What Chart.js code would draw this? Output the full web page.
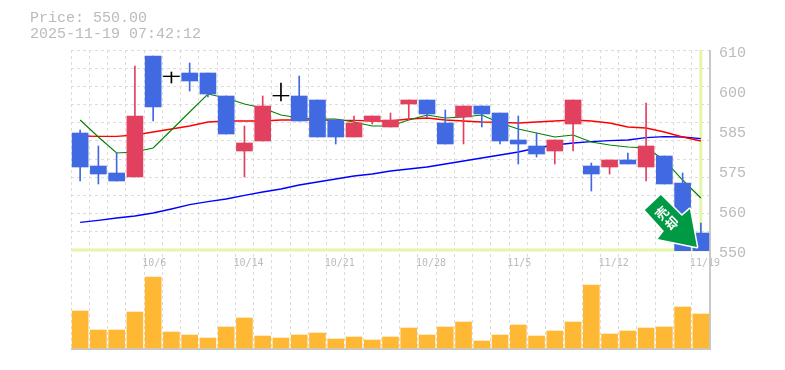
<!DOCTYPE html>
<html>
<head>
<meta charset="utf-8">
<title>Price chart</title>
<script src="https://cdn.jsdelivr.net/npm/chart.js@4"></script>
<style>
  body { margin: 0; background: #fff; }
  #header {
    position: absolute; left: 30px; top: 11px;
    font: 15px/16px "Liberation Mono", monospace; color: #bbb; white-space: pre;
  }
</style>
</head>
<body>
<div id="header">Price: 550.00
2025-11-19 07:42:12</div>
<canvas id="myChart" width="785" height="370"></canvas>
<script>
const dates = ["9/30","10/1","10/2","10/3","10/6","10/7","10/8","10/9","10/10","10/14","10/15","10/16","10/17","10/20","10/21","10/22","10/23","10/24","10/27","10/28","10/29","10/30","10/31","11/4","11/5","11/6","11/7","11/10","11/11","11/12","11/13","11/14","11/17","11/18","11/19"];
const shownDates = ["10/6","10/14","10/21","10/28","11/5","11/12","11/19"];

const opens = [585.1,575.2,573.1,571.9,608.2,602.0,603.1,603.1,596.2,579.7,582.7,596.2,596.2,595,589,583.9,588.7,586.9,593.8,595,588.1,589.9,593.2,591.1,583,581.2,579.7,587.8,575.2,574.9,577,574.9,578.2,570.1,555.1];
const closes = [574.9,572.8,570.7,590.2,592.9,602.2,600.7,596.8,584.8,582.1,593.2,596.4,588.7,583.9,583.9,588.1,590.2,589,595,590.8,581.8,593.2,590.8,582.7,581.8,578.8,583,595,572.8,577,575.8,581.2,569.8,549.8,549.8];
const highs = [586,581.2,579.1,605.2,608.2,603.4,606.1,603.1,596.2,587.2,596.2,600.1,602.2,595,589,590.2,590.2,591.1,595,595,592,593.2,593.2,591.1,590.2,585.1,583,595,576.1,577,579.1,594.1,578.2,573.1,558.1];
const lows = [570.7,569.8,570.7,571.9,588.7,600.1,597.7,595.9,584.8,571.9,582.7,594.7,588.7,583.9,581.8,583.9,587.8,586.9,589,589.9,581.8,581.8,586.9,581.8,575.8,577.9,575.8,579.7,567.7,572.8,575.8,570.7,569.8,549.8,549.8];

const ma5 = [589,583.9,579.1,579.4,580.6,586,591.4,596.8,595.6,593.8,592.6,590.5,589.6,589.3,589.3,588.4,587.2,587.2,589,590.5,589.6,589.9,590.5,588.1,586.3,585.1,583.9,584.5,582.4,581.5,580.9,580.6,577,571,565.6];
const ma25 = [584.2,584.1,584.1,584.5,585.4,586.3,587.2,588.4,588.7,588.7,588.7,589,589,589,588.9,588.9,588.7,588.7,589.3,589.6,589,588.7,588.4,588.3,588.1,588.4,588.7,589,588.7,588.1,586.9,586.6,585.4,583.9,582.7];
const ma75 = [558.3,558.9,559.6,560.2,561.1,562.3,563.6,564.5,565.3,566.4,567.4,568.3,569.5,570.4,571.3,572.2,572.8,573.7,574.3,574.9,575.8,576.7,577.6,578.5,579.4,580.6,581.5,582.1,582.5,582.8,583,583.7,584,583.9,583.4];

const volumes = [37,18,18,36,71,16,13,10,21,30,12,10,13,15,9,11,8,11,20,13,21,26,7,13,23,12,17,26,63,14,17,20,21,41,34];

// labels sit at even steps of 12 but are printed rounded
const priceTicks = [610,598,586,574,562,550];
const priceLabels = ["610","600","585","575","560","550"];
const lastPrice = 550;

const BLUE = "#4169e1";
const RED = "#e1405f";
const GRID = "#dcdcdc";
const FRAME = "#c8c8c8";
const CURSOR = "#e4f6a8";
const TEXT = "#bbb";

const candleColor = (i) => {
  if (Math.abs(opens[i] - closes[i]) < 0.5) return "#000";
  return closes[i] > opens[i] ? RED : BLUE;
};
const colors = dates.map((d, i) => candleColor(i));

//cursor lines behind the candles, frame on the right and bottom
const framePlugin = {
  id: "frame",
  beforeDatasetsDraw(chart) {
    const { ctx, chartArea, scales } = chart;
    const cx = scales.x.getPixelForValue(dates.length - 1);
    const cy = scales.y.getPixelForValue(lastPrice);
    ctx.save();
    ctx.strokeStyle = CURSOR;
    ctx.lineWidth = 3;
    ctx.beginPath();
    ctx.moveTo(chartArea.left, cy);
    ctx.lineTo(chartArea.right, cy);
    ctx.moveTo(cx, chartArea.top);
    ctx.lineTo(cx, cy);
    ctx.stroke();
    ctx.strokeStyle = FRAME;
    ctx.lineWidth = 2;
    ctx.beginPath();
    ctx.moveTo(chartArea.right, chartArea.top);
    ctx.lineTo(chartArea.right, chartArea.bottom);
    ctx.lineTo(chartArea.left, chartArea.bottom);
    ctx.stroke();
    ctx.restore();
  },
};

//green signal arrow pointing at the last candle
const arrowPlugin = {
  id: "arrow",
  afterDatasetsDraw(chart) {
    const { ctx, scales } = chart;
    const tipX = scales.x.getPixelForValue(dates.length - 1) - 4;
    const tipY = scales.y.getPixelForValue(lastPrice) - 3;
    const shape = [[0,0],[-7,-38],[-15,-31],[-36,-52],[-52,-37],[-33,-16],[-39,-8]];
    ctx.save();
    ctx.translate(tipX, tipY);
    ctx.beginPath();
    shape.forEach((p, i) => (i ? ctx.lineTo(p[0], p[1]) : ctx.moveTo(p[0], p[1])));
    ctx.closePath();
    ctx.lineJoin = "round";
    ctx.lineWidth = 3;
    ctx.strokeStyle = "#fff";
    ctx.stroke();
    ctx.fillStyle = "#009944";
    ctx.fill();
    ctx.fillStyle = "#fff";
    ctx.font = 'bold 13px "Noto Sans CJK JP"';
    ctx.textAlign = "center";
    ctx.textBaseline = "middle";
    ctx.translate(-30, -29);
    ctx.rotate(-Math.PI / 4);
    ctx.fillText("売", 0, -7);
    ctx.fillText("却", 0, 7);
    ctx.restore();
  },
};

new Chart(document.getElementById("myChart"), {
  type: "bar",
  data: {
    labels: dates,
    datasets: [
      { type: "bar", yAxisID: "vol", data: volumes, backgroundColor: "#ffb833", barThickness: 16, order: 1 },
      { type: "bar", data: dates.map((d, i) => [opens[i], closes[i]]), backgroundColor: colors, barThickness: 16, order: 1 },
      { type: "bar", data: dates.map((d, i) => [lows[i], highs[i]]), backgroundColor: colors, barThickness: 1, order: 1 },
      { type: "line", data: ma5, borderColor: "#008000", borderWidth: 1.1, pointRadius: 0, tension: 0, order: 2 },
      { type: "line", data: ma25, borderColor: "#ff0000", borderWidth: 1.4, pointRadius: 0, tension: 0, order: 2 },
      { type: "line", data: ma75, borderColor: "#0000ff", borderWidth: 1.4, pointRadius: 0, tension: 0, order: 2 },
    ],
  },
  options: {
    responsive: false,
    animation: false,
    layout: { padding: { left: 71, top: 50, bottom: 21, right: 0 } },
    datasets: { bar: { grouped: false } },
    plugins: { legend: { display: false }, tooltip: { enabled: false } },
    scales: {
      x: {
        position: { y: 550 },
        offset: true,
        border: { display: false, dash: [3, 3] },
        grid: { color: GRID, offset: true, drawTicks: false },
        ticks: {
          autoSkip: false,
          maxRotation: 0,
          align: "start",
          labelOffset: -11,
          padding: 7,
          color: TEXT,
          font: { family: "DejaVu Sans Mono", size: 10 },
          callback(value) {
            const d = dates[value];
            return shownDates.includes(d) ? d : "";
          },
        },
      },
      y: {
        position: "right",
        min: 520.3,
        max: 610,
        border: { display: false, dash: [3, 3] },
        grid: { color: (c) => (c.tick.value < 549 ? "transparent" : GRID), drawTicks: false },
        ticks: { display: false },
        afterBuildTicks(scale) {
          const lines = [];
          for (let i = 0; i < 12; i += 1) lines.push({ value: 610 - (i * 60) / 11 });
          scale.ticks = lines;
        },
        afterFit(scale) { scale.width = 0; },
      },
      priceLabels: {
        position: "right",
        min: 520.3,
        max: 610,
        border: { display: false },
        grid: { display: false },
        ticks: {
          autoSkip: false,
          padding: 1,
          labelOffset: 3,
          color: TEXT,
          font: { family: "Liberation Mono", size: 15 },
          callback(value) {
            return priceLabels[priceTicks.indexOf(value)];
          },
        },
        afterBuildTicks(scale) {
          scale.ticks = priceTicks.map((v) => ({ value: v }));
        },
        afterFit(scale) { scale.width = 75; },
      },
      vol: { display: false, min: -1, max: 298 },
    },
  },
  plugins: [framePlugin, arrowPlugin],
});
</script>
</body>
</html>
